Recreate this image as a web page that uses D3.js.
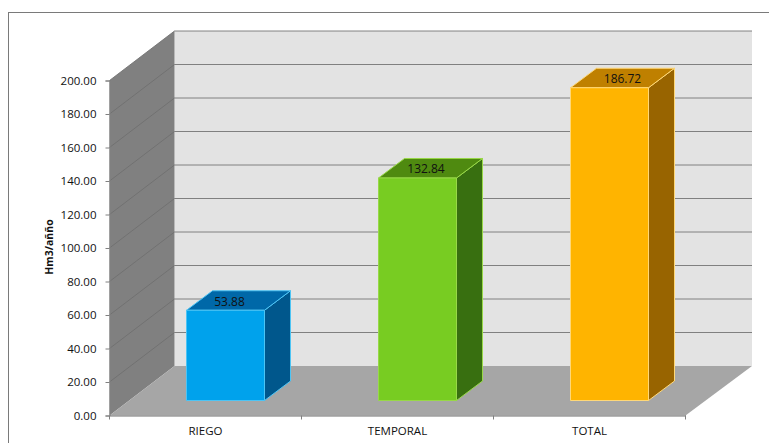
<!DOCTYPE html>
<html>
<head>
<meta charset="utf-8">
<script src="https://cdn.jsdelivr.net/npm/d3@7"></script>
<style>
  body { margin: 0; background: #fff; }
  text { font-family: "Open Sans", sans-serif; fill: #111; }
</style>
</head>
<body>
<svg id="chart" width="769" height="443" style="display:block"></svg>
<script>
const categories = ['RIEGO', 'TEMPORAL', 'TOTAL'];
const values = [53.88, 132.84, 186.72];
const yTicks = [0, 20, 40, 60, 80, 100, 120, 140, 160, 180, 200];
const faceColors = [
    { front: '#00a2ec', top: '#0068a8', side: '#00578c', edge: '#4cc4f4' },
    { front: '#78cc22', top: '#4f8a10', side: '#386f10', edge: '#98d848' },
    { front: '#ffb400', top: '#bf8000', side: '#986400', edge: '#ffd878' }
];

const svg = d3.select('#chart');

const plotLeft = 109.5, plotRight = 685.5, plotBottom = 415.5, plotTop = 80.5;
const depthX = 65, depthY = -49.5;
const wallRight = 752;

const x = d3.scaleBand().domain(categories).range([plotLeft, plotRight]);
const y = d3.scaleLinear().domain([0, 200]).range([plotBottom, plotTop]);

const poly = pts => 'M' + pts.map(p => p.join(',')).join('L') + 'Z';

// chart frame, runs off the right and bottom of the page
svg.append('rect')
    .attr('x', 8.5).attr('y', 12.5)
    .attr('width', 800).attr('height', 480)
    .attr('fill', '#fff').attr('stroke', '#7a7a7a').attr('stroke-width', 1);

// back wall
svg.append('path')
    .attr('d', poly([[plotLeft + depthX, plotTop + depthY], [wallRight, plotTop + depthY],
        [wallRight, plotBottom + depthY], [plotLeft + depthX, plotBottom + depthY]]))
    .attr('fill', '#e3e3e3');

// left wall
svg.append('path')
    .attr('d', poly([[plotLeft, plotTop], [plotLeft + depthX, plotTop + depthY],
        [plotLeft + depthX, plotBottom + depthY], [plotLeft, plotBottom]]))
    .attr('fill', '#808080');

// floor
svg.append('path')
    .attr('d', poly([[plotLeft, plotBottom], [plotLeft + depthX, plotBottom + depthY],
        [wallRight, plotBottom + depthY], [plotRight, plotBottom]]))
    .attr('fill', '#a6a6a6');

// gridlines wrap from the left wall onto the back wall
const grid = svg.append('g').attr('fill', 'none');
yTicks.forEach(t => {
    if (t > 0) {
        grid.append('path')
            .attr('d', `M${plotLeft},${y(t)}L${plotLeft + depthX},${y(t) + depthY}L${wallRight},${y(t) + depthY}`)
            .attr('stroke', '#6f6f6f')
            .attr('stroke-opacity', 0.85);
    }
});

// bars stand a little way in from the front edge of the floor
const insetX = 20, insetY = -15;
const barWidth = 78, barDepthX = 26, barDepthY = -19.5;

const bars = svg.selectAll('g.bar')
    .data(categories)
    .join('g')
    .attr('class', 'bar');

bars.each(function (cat, i) {
    const g = d3.select(this);
    const c = faceColors[i];
    const x0 = x(cat) + x.bandwidth() / 2 + insetX - barWidth / 2;
    const x1 = x0 + barWidth;
    const yBase = y(0) + insetY;
    const yTop = y(values[i]) + insetY;

    g.append('path')
        .attr('d', poly([[x1, yTop], [x1 + barDepthX, yTop + barDepthY],
            [x1 + barDepthX, yBase + barDepthY], [x1, yBase]]))
        .attr('fill', c.side).attr('stroke', c.edge).attr('stroke-width', 1);
    g.append('path')
        .attr('d', poly([[x0, yTop], [x0 + barDepthX, yTop + barDepthY],
            [x1 + barDepthX, yTop + barDepthY], [x1, yTop]]))
        .attr('fill', c.top).attr('stroke', c.edge).attr('stroke-width', 1);
    g.append('path')
        .attr('d', poly([[x0, yTop], [x1, yTop], [x1, yBase], [x0, yBase]]))
        .attr('fill', c.front).attr('stroke', c.edge).attr('stroke-width', 1);

    // value labels drift rightwards across the top faces
    g.append('text')
        .attr('x', x0 + barWidth / 2 + barDepthX / 2 - 9 + i * 4.5)
        .attr('y', yTop + barDepthY / 2 + 5)
        .attr('text-anchor', 'middle')
        .attr('font-size', 12)
        .text(values[i].toFixed(2));
});

// value axis
const yAxis = svg.append('g')
    .attr('transform', `translate(${plotLeft},0)`)
    .call(d3.axisLeft(y).tickValues(yTicks).tickSize(4).tickPadding(9).tickFormat(d => d.toFixed(2)));
yAxis.selectAll('.domain, line').attr('stroke', '#808080');
yAxis.selectAll('text').attr('font-size', 11.5).attr('font-family', '"Open Sans", sans-serif').attr('fill', '#111');

// category axis
const xAxis = svg.append('g')
    .attr('transform', `translate(0,${plotBottom})`)
    .call(d3.axisBottom(x).tickSize(0).tickPadding(11));
xAxis.select('.domain').attr('stroke', '#707070');
xAxis.selectAll('text').attr('font-size', 11.5).attr('font-family', '"Open Sans", sans-serif').attr('fill', '#111');
xAxis.selectAll('.sep')
    .data(d3.range(categories.length + 1))
    .join('line')
    .attr('class', 'sep')
    .attr('x1', i => plotLeft + i * x.bandwidth())
    .attr('x2', i => plotLeft + i * x.bandwidth())
    .attr('y1', 0).attr('y2', 4)
    .attr('stroke', '#808080');

// axis title
svg.append('text')
    .attr('transform', 'translate(52.5,247) rotate(-90)')
    .attr('text-anchor', 'middle')
    .attr('font-size', 10.5)
    .attr('font-weight', 700)
    .text('Hm3/añño');
</script>
</body>
</html>
